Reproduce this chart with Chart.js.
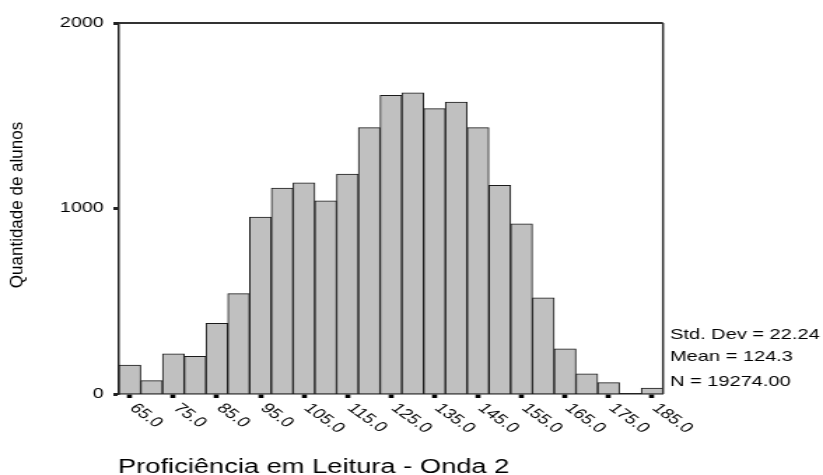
<!DOCTYPE html>
<html>
<head>
<meta charset="utf-8">
<script src="https://cdn.jsdelivr.net/npm/chart.js@4.4.1/dist/chart.umd.min.js"></script>
<style>
  html, body { margin: 0; padding: 0; background: #fff; }
  /* the original picture is stretched sideways, so the canvas is too */
  #wrap { width: 588px; height: 475px; transform: scaleX(1.39966); transform-origin: 0 0; }
</style>
</head>
<body>
<div id="wrap"><canvas id="histograma" width="588" height="475"></canvas></div>
<script>
// centro de cada classe (intervalos de 5 pontos)
const classes = [65, 70, 75, 80, 85, 90, 95, 100, 105, 110, 115, 120, 125,
                 130, 135, 140, 145, 150, 155, 160, 165, 170, 175, 180, 185];
// quantidade de alunos por classe
const alunos = [156, 72, 217, 203, 381, 541, 954, 1110, 1139, 1042, 1186, 1436, 1610,
                1623, 1538, 1574, 1436, 1125, 918, 519, 244, 109, 61, 0, 32];
// rotulos do eixo x (uma classe sim, outra nao)
const rotulosX = ['65.0', '75.0', '85.0', '95.0', '105.0', '115.0', '125.0',
                  '135.0', '145.0', '155.0', '165.0', '175.0', '185.0'];
const ticksY = [0, 1000, 2000];
const estatisticas = ['Std. Dev = 22.24', 'Mean = 124.3', 'N = 19274.00'];
const tituloX = 'Proficiência em Leitura - Onda 2';
const tituloY = 'Quantidade de alunos';

const estica = 823 / 588;
const fonte = '"Liberation Sans", Arial, sans-serif';

// textos e moldura desenhados por cima
const textos = {
    id: 'textos',
    afterDraw(chart) {
        const ctx = chart.ctx;
        const area = chart.chartArea;
        const x = chart.scales.x;
        ctx.save();

        // moldura: topo e direita
        ctx.strokeStyle = '#333';
        ctx.lineWidth = 2;
        ctx.beginPath();
        ctx.moveTo(area.left, area.top);
        ctx.lineTo(area.right, area.top);
        ctx.stroke();
        ctx.lineWidth = 1.5;
        ctx.beginPath();
        ctx.moveTo(area.right, area.top);
        ctx.lineTo(area.right, area.bottom);
        ctx.stroke();

        // rotulos inclinados do eixo x
        ctx.fillStyle = '#000';
        ctx.font = '14px ' + fonte;
        ctx.textAlign = 'left';
        ctx.textBaseline = 'top';
        rotulosX.forEach(r => {
            const i = classes.indexOf(parseFloat(r));
            const px = x.getPixelForValue(i);
            ctx.save();
            ctx.translate(px + 7, area.bottom + 7);
            ctx.rotate(Math.PI / 4);
            ctx.fillText(r, 0, 0);
            ctx.restore();
        });

        // estatisticas a direita
        ctx.font = '14.3px ' + fonte;
        ctx.textBaseline = 'middle';
        const linhas = [-59, -36.5, -12];
        estatisticas.forEach((t, k) => {
            ctx.fillText(t, area.right + 5, area.bottom + linhas[k]);
        });

        // titulo do eixo x
        ctx.font = '19.5px ' + fonte;
        ctx.textBaseline = 'alphabetic';
        ctx.fillText(tituloX, area.left - 0.7, 473);

        // titulo do eixo y (sem o esticamento)
        ctx.save();
        ctx.translate(13, 205);
        ctx.scale(1 / estica, 1);
        ctx.rotate(-Math.PI / 2);
        ctx.font = '17px ' + fonte;
        ctx.textAlign = 'center';
        ctx.textBaseline = 'middle';
        ctx.fillText(tituloY, 0, 0);
        ctx.restore();

        ctx.restore();
    }
};

const config = {
    type: 'bar',
    data: {
        labels: classes,
        datasets: [{
            data: alunos,
            backgroundColor: '#c0c0c0',
            borderColor: '#1a1a1a',
            borderWidth: 1,
            barPercentage: 1,
            categoryPercentage: 1
        }]
    },
    options: {
        responsive: false,
        animation: false,
        devicePixelRatio: 1,
        layout: { padding: { top: 23, right: 114.3, bottom: 0, left: 0 } },
        plugins: {
            legend: { display: false },
            tooltip: { enabled: false }
        },
        scales: {
            x: {
                offset: true,
                grid: {
                    offset: false,
                    drawOnChartArea: false,
                    drawTicks: true,
                    tickLength: 4,
                    tickWidth: 3.6,
                    tickColor: c => (c.index % 2 === 0 ? '#000' : 'rgba(0,0,0,0)')
                },
                border: { display: true, color: '#222', width: 1.5 },
                ticks: { display: false, autoSkip: false },
                afterFit: s => { s.height = 81; }
            },
            y: {
                min: 0,
                max: 2000,
                afterBuildTicks: s => { s.ticks = ticksY.map(v => ({ value: v })); },
                grid: {
                    drawOnChartArea: false,
                    drawTicks: true,
                    tickLength: 4,
                    tickWidth: 3,
                    tickColor: '#222'
                },
                border: { display: true, color: '#222', width: 1.5 },
                ticks: {
                    color: '#000',
                    padding: 7,
                    font: { family: fonte, size: 14 },
                    callback: v => String(v)
                },
                afterFit: s => { s.width = 85; }
            }
        }
    },
    plugins: [textos]
};

const grafico = new Chart(document.getElementById('histograma'), config);
</script>
</body>
</html>
